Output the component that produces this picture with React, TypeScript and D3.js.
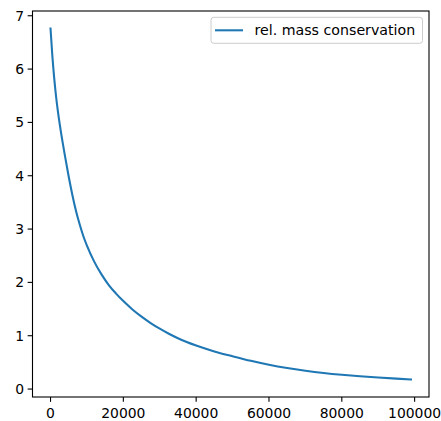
import React from "react";
import * as d3 from "d3";

const xValues = [0, 500, 1000, 1500, 2000, 3000, 4000, 5000, 6000, 7000, 8000, 9000, 10000, 12000, 14000, 16000, 18000, 20000, 22500, 25000, 27500, 30000, 32500, 35000, 40000, 45000, 50000, 55000, 60000, 65000, 70000, 75000, 80000, 85000, 90000, 95000, 99000];
const yValues = [6.76, 6.25, 5.84, 5.5, 5.22, 4.76, 4.36, 3.98, 3.64, 3.34, 3.09, 2.87, 2.69, 2.39, 2.15, 1.95, 1.79, 1.65, 1.493, 1.358, 1.238, 1.132, 1.037, 0.953, 0.816, 0.706, 0.615, 0.529, 0.455, 0.394, 0.344, 0.302, 0.268, 0.24, 0.216, 0.195, 0.18];
const xTicks = [0, 20000, 40000, 60000, 80000, 100000];
const yTicks = [0, 1, 2, 3, 4, 5, 6, 7];
const seriesLabel = "rel. mass conservation";

export default function App() {
  const W = 441, H = 421;
  const left = 32.5, right = 429, top = 11, bottom = 397;
  const xMin = d3.min(xValues)!, xMax = d3.max(xValues)!;
  const yMin = d3.min(yValues)!, yMax = d3.max(yValues)!;
  const xm = (xMax - xMin) * 0.05, ym = (yMax - yMin) * 0.05;
  const x = d3.scaleLinear().domain([xMin - xm, xMax + xm]).range([left, right]);
  const y = d3.scaleLinear().domain([yMin - ym, yMax + ym]).range([bottom, top]);
  const pts = xValues.map((v, i) => [v, yValues[i]] as [number, number]);
  const line = d3.line<[number, number]>().x(d => x(d[0])).y(d => y(d[1])).curve(d3.curveMonotoneX);
  const font = "DejaVu Sans, sans-serif";
  const fs = 13.9;
  const tl = 4.86;
  return (
    <svg width={W} height={H} style={{ position: "absolute", left: 0, top: 0, background: "#fff" }} fontFamily={font}>
      <rect x={0} y={0} width={W} height={H} fill="#fff" />
      <path d={line(pts) || ""} fill="none" stroke="#1f77b4" strokeWidth={2.08} strokeLinejoin="round" strokeLinecap="square" />
      <rect x={left} y={top} width={right - left} height={bottom - top} fill="none" stroke="#000" strokeWidth={1.1} />
      {xTicks.map(t => (
        <g key={"x" + t}>
          <line x1={x(t)} x2={x(t)} y1={bottom} y2={bottom + tl} stroke="#000" strokeWidth={1.1} />
          <text x={x(t)} y={bottom + tl + 3.5 + 12.5} fontSize={fs} textAnchor="middle" fill="#000">{t}</text>
        </g>
      ))}
      {yTicks.map(t => (
        <g key={"y" + t}>
          <line x1={left - tl} x2={left} y1={y(t)} y2={y(t)} stroke="#000" strokeWidth={1.1} />
          <text x={left - tl - 3.5} y={y(t)} dy="0.36em" fontSize={fs} textAnchor="end" fill="#000">{t}</text>
        </g>
      ))}
      <g>
        <rect x={211} y={17.3} width={211.5} height={26} rx={2.8} fill="#fff" fillOpacity={0.8} stroke="#cccccc" strokeWidth={1} />
        <line x1={215} x2={243} y1={30.3} y2={30.3} stroke="#1f77b4" strokeWidth={2.08} />
        <text x={254.5} y={30.3} dy="0.36em" fontSize={14.2} fill="#000">{seriesLabel}</text>
      </g>
    </svg>
  );
}
